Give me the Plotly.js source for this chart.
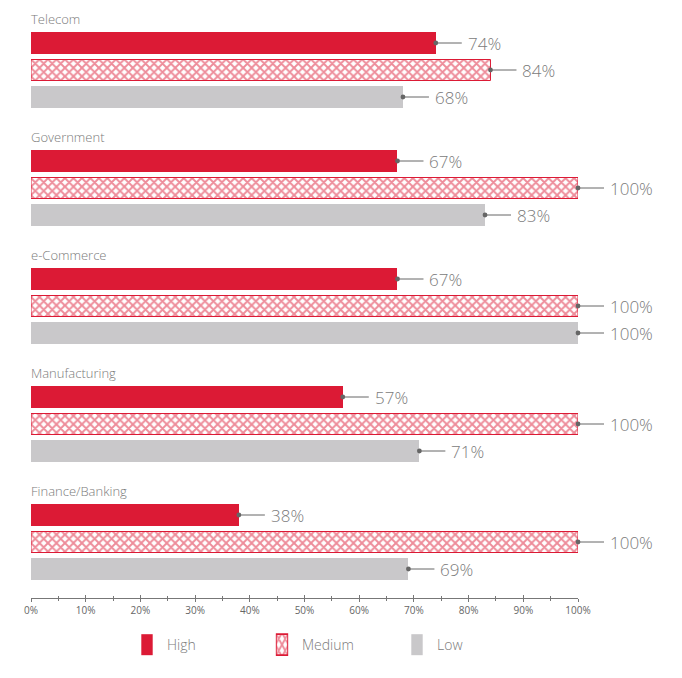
<!DOCTYPE html>
<html><head><meta charset="utf-8">
<script src="https://cdn.plot.ly/plotly-3.0.1.min.js"></script>
<style>body{margin:0;background:#fff}#c{width:682px;height:678px}</style>
</head><body><div id="c"></div>
<script>
const categories = ["Telecom","Government","e-Commerce","Manufacturing","Finance/Banking"];
const highVals   = [74, 67, 67, 57, 38];
const mediumVals = [84, 100, 100, 100, 100];
const lowVals    = [68, 83, 100, 71, 69];
const seriesNames = ["High","Medium","Low"];
const tickVals = [0,10,20,30,40,50,60,70,80,90,100];
const tickText = tickVals.map(v => v + "%");

const RED = "#DC1A35", GRAY = "#C9C8CA", TXT = "#7b7b7b";
const GROUP = 118, SLOT = 27, FIRST = 43;
function ypos(k){ return categories.map((c,g)=> FIRST + g*GROUP + k*SLOT); }

const series = [highVals, mediumVals, lowVals];
const traces = [
  {type:"bar", orientation:"h", name:seriesNames[0], x:highVals, y:ypos(0), width:22,
   marker:{color:RED, line:{width:0}}, hoverinfo:"skip"},
  {type:"bar", orientation:"h", name:seriesNames[1], x:mediumVals, y:ypos(1), width:21,
   marker:{color:"#ffffff", line:{color:RED, width:1},
     pattern:{shape:"x", fgcolor:RED, bgcolor:"#ffffff", size:6, solidity:0.55, fillmode:"overlay"}}, hoverinfo:"skip"},
  {type:"bar", orientation:"h", name:seriesNames[2], x:lowVals, y:ypos(2), width:22,
   marker:{color:GRAY, line:{width:0}}, hoverinfo:"skip"},
  {type:"scatter", x:[0,100], y:[598,598], xaxis:"x2", mode:"none", showlegend:false, hoverinfo:"skip"}
];

const annotations = [];
categories.forEach((c,g)=>{
  annotations.push({xref:"paper", x:0, y:FIRST + g*GROUP - 24, yref:"y", text:c, showarrow:false,
    xanchor:"left", yanchor:"middle", xshift:-2,
    font:{family:"Open Sans", size:13, color:TXT, weight:300}});
});
series.forEach((vals,k)=>{
  const ys = ypos(k);
  vals.forEach((v,i)=>{
    annotations.push({x:v, y:ys[i], xref:"x", yref:"y", text:v+"%", showarrow:true,
      arrowhead:6, arrowside:"end", arrowsize:1.2, arrowwidth:1, arrowcolor:"#666",
      ax:26, ay:0, xanchor:"left", yanchor:"middle", borderpad:5,
      font:{family:"Open Sans", size:17, color:TXT, weight:300}});
  });
});

const layout = {
  width:682, height:678, paper_bgcolor:"#fff", plot_bgcolor:"#fff",
  margin:{l:31, r:104, t:0, b:80},
  barmode:"overlay", bargap:0,
  xaxis:{range:[0,100], tickvals:tickVals, ticktext:tickText, showgrid:false, zeroline:false,
    showline:true, linecolor:"#777", linewidth:1, ticks:"outside", ticklen:3, tickcolor:"#777",
    minor:{dtick:5, ticks:"outside", ticklen:2, tickcolor:"#777"},
    tickfont:{family:"Open Sans", size:10, color:"#666"}, fixedrange:true},
  xaxis2:{range:[0,100], overlaying:"x", anchor:"y", side:"bottom", showline:false, showgrid:false, zeroline:false,
    tickvals:tickVals, ticks:"inside", ticklen:3, tickcolor:"#777", showticklabels:false,
    minor:{dtick:5, ticks:"inside", ticklen:2, tickcolor:"#777"}},
  yaxis:{range:[598,0], visible:false, showgrid:false, zeroline:false, fixedrange:true},
  showlegend:true,
  legend:{orientation:"h", x:(127-31)/547, xanchor:"left", y:-0.052, yanchor:"top",
    entrywidth:90, entrywidthmode:"pixels", traceorder:"normal",
    font:{family:"Open Sans", size:14, color:TXT, weight:300}, bgcolor:"rgba(0,0,0,0)"},
  annotations:annotations
};

Plotly.newPlot("c", traces, layout, {staticPlot:true, displayModeBar:false}).then(()=>{
  document.querySelectorAll(".legend .legendpoints path").forEach(p=>{
    const t = p.getAttribute("transform") || "";
    p.setAttribute("transform", t + " scale(0.95,1.75)");
  });
});
</script></body></html>
